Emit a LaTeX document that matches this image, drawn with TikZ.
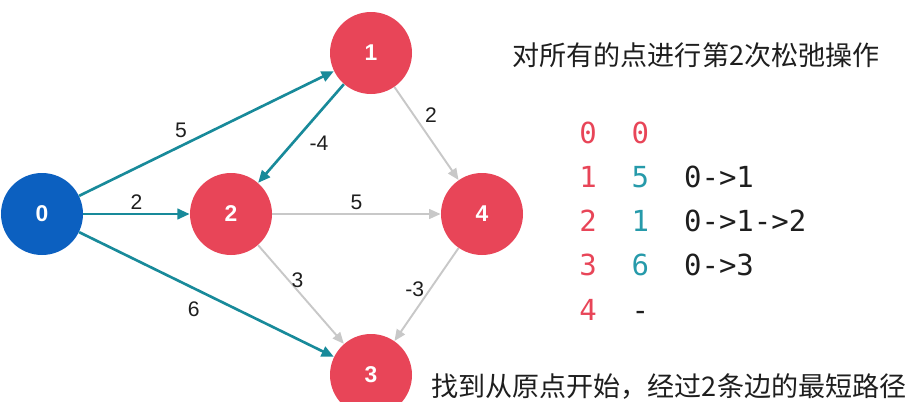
\documentclass[tikz,border=0pt]{standalone}
\usepackage{fontspec}
\setmainfont{Liberation Sans}
\setmonofont{DejaVu Sans Mono}
\newfontfamily\cjk{Noto Sans CJK SC}
\usetikzlibrary{arrows.meta}
\definecolor{srcblue}{RGB}{12,96,192}
\definecolor{vertred}{RGB}{232,69,88}
\definecolor{relaxteal}{RGB}{24,138,154}
\definecolor{distteal}{RGB}{38,154,170}
\definecolor{idlegray}{RGB}{200,200,200}
\definecolor{textdark}{RGB}{30,30,30}

\begin{document}
\begin{tikzpicture}[
    vertex/.style={circle, minimum size=1.64cm, inner sep=0pt,
                   font=\fontsize{13}{15}\selectfont\bfseries, text=white},
    src/.style={vertex, fill=srcblue},
    vtx/.style={vertex, fill=vertred},
    used/.style={-{Triangle[length=7pt,width=6pt]}, line width=1.5pt, draw=relaxteal},
    idle/.style={-{Triangle[length=6.5pt,width=5.5pt]}, line width=1.1pt, draw=idlegray},
    wt/.style={font=\fontsize{12}{14}\selectfont, inner sep=1pt, text=textdark},
    distrow/.style={anchor=west, inner sep=0pt, text=textdark,
                    font=\ttfamily\fontsize{16.5}{19}\selectfont},
    note/.style={inner sep=0pt, text=textdark, font=\cjk\fontsize{15.4}{18}\selectfont}
]
\useasboundingbox (0,0) rectangle (18.3,-8.02);

\node[src] (n0) at (0.84,-4.28) {0};
\node[vtx] (n1) at (7.42,-1.06) {1};
\node[vtx] (n2) at (4.62,-4.28) {2};
\node[vtx] (n3) at (7.42,-7.50) {3};
\node[vtx] (n4) at (9.64,-4.28) {4};

\draw[used] (n0) -- node[wt, pos=0.4, above=3pt] {5} (n1);
\draw[used] (n0) -- node[wt, midway, above=1pt] {2} (n2);
\draw[used] (n0) -- node[wt, pos=0.45, below=6pt] {6} (n3);
\draw[used] (n1) -- node[wt, pos=0.6, right=8pt] {-4} (n2);
\draw[idle] (n1) -- node[wt, pos=0.3, right=5pt] {2} (n4);
\draw[idle] (n2) -- node[wt, midway, above=1pt] {5} (n4);
\draw[idle] (n2) -- node[wt, pos=0.36, right=0pt] {3} (n3);
\draw[idle] (n4) -- node[wt, pos=0.44, left=2pt] {-3} (n3);

\node[note] (title) at (13.92,-1.10) {对所有的点进行第2次松弛操作};

\node[distrow] (d0) at (11.58,-2.65) {\textcolor{vertred}{0}~~\textcolor{vertred}{0}};
\node[distrow] (d1) at (11.58,-3.54) {\textcolor{vertred}{1}~~\textcolor{distteal}{5}~~0->1};
\node[distrow] (d2) at (11.58,-4.42) {\textcolor{vertred}{2}~~\textcolor{distteal}{1}~~0->1->2};
\node[distrow] (d3) at (11.58,-5.30) {\textcolor{vertred}{3}~~\textcolor{distteal}{6}~~0->3};
\node[distrow] (d4) at (11.58,-6.20) {\textcolor{vertred}{4}~~-};

\node[note, anchor=west] (result) at (8.62,-7.74) {找到从原点开始，经过2条边的最短路径};
\end{tikzpicture}
\end{document}
